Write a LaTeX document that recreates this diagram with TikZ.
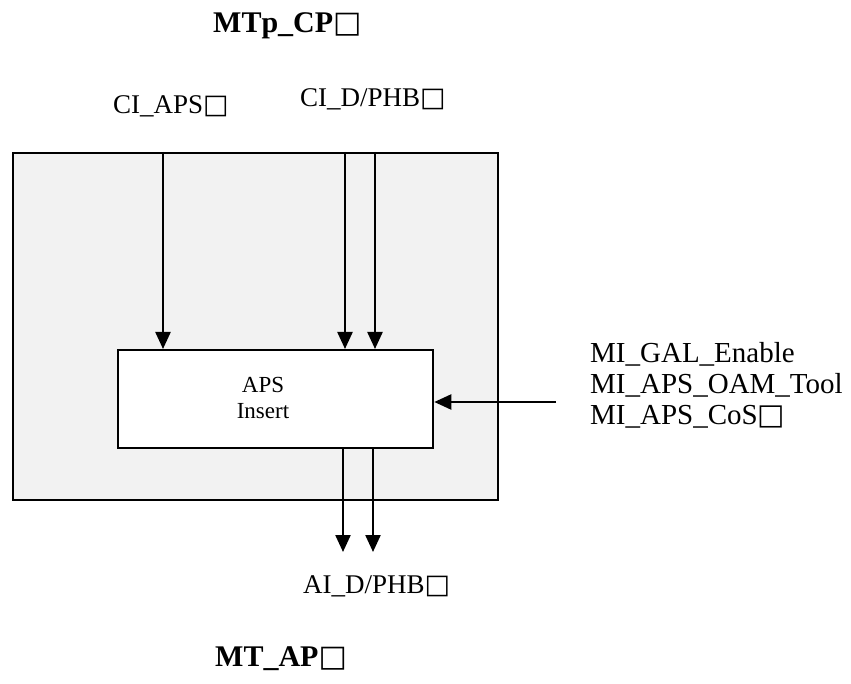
\documentclass[tikz,border=0pt]{standalone}
\usepackage{fontspec}
\setmainfont{Liberation Serif}
\newfontfamily\boxf{DejaVu Sans}
\usetikzlibrary{arrows.meta}
\newcommand{\gb}{{\boxf □}}
\definecolor{boxgray}{HTML}{F2F2F2}
\tikzset{
  blk/.style={draw=black, line width=2.3pt, anchor=north west, inner sep=0pt},
  sig/.style={line width=2.3pt, -{Triangle[length=17pt,width=15pt]}},
  lbl/.style={inner sep=0pt, anchor=base west, font=\fontsize{27pt}{30pt}\selectfont},
  mi/.style={inner sep=0pt, anchor=north west, align=left, font=\fontsize{29pt}{31pt}\selectfont},
  ttl/.style={inner sep=0pt, anchor=base west, font=\fontsize{30pt}{32pt}\selectfont\bfseries},
}
\begin{document}
\begin{tikzpicture}[x=1pt,y=-1pt]
\useasboundingbox (0,0) rectangle (851,684);
\node[blk, fill=boxgray, minimum width=485pt, minimum height=347pt] (outer) at (12,152) {};
\node[blk, fill=white, minimum width=315pt, minimum height=98pt] (inner) at (117,349) {};
\node[inner sep=0pt, align=center, font=\fontsize{23pt}{26pt}\selectfont] (ins) at (263,398) {APS\\Insert};

\node[ttl] (t1) at (213,33) {MTp\_CP\gb};
\node[ttl] (t2) at (215,666) {MT\_AP\gb};
\node[lbl] (l1) at (113,114) {CI\_APS\gb};
\node[lbl] (l2) at (300,107) {CI\_D/PHB\gb};
\node[lbl] (l3) at (303,593) {AI\_D/PHB\gb};
\node[mi] (l4) at (590,342) {MI\_GAL\_Enable\\MI\_APS\_OAM\_Tool\\MI\_APS\_CoS\gb};

\coordinate (a1) at (163,152);
\coordinate (a2) at (345,152);
\coordinate (a3) at (375,152);
\coordinate (o1) at (343,552);
\coordinate (o2) at (373,552);
\coordinate (m) at (556,402);

\draw[sig] (a1) -- (a1 |- inner.north);
\draw[sig] (a2) -- (a2 |- inner.north);
\draw[sig] (a3) -- (a3 |- inner.north);
\draw[sig] (o1 |- inner.south) -- (o1);
\draw[sig] (o2 |- inner.south) -- (o2);
\draw[sig] (m) -- (m -| inner.east);
\end{tikzpicture}
\end{document}
